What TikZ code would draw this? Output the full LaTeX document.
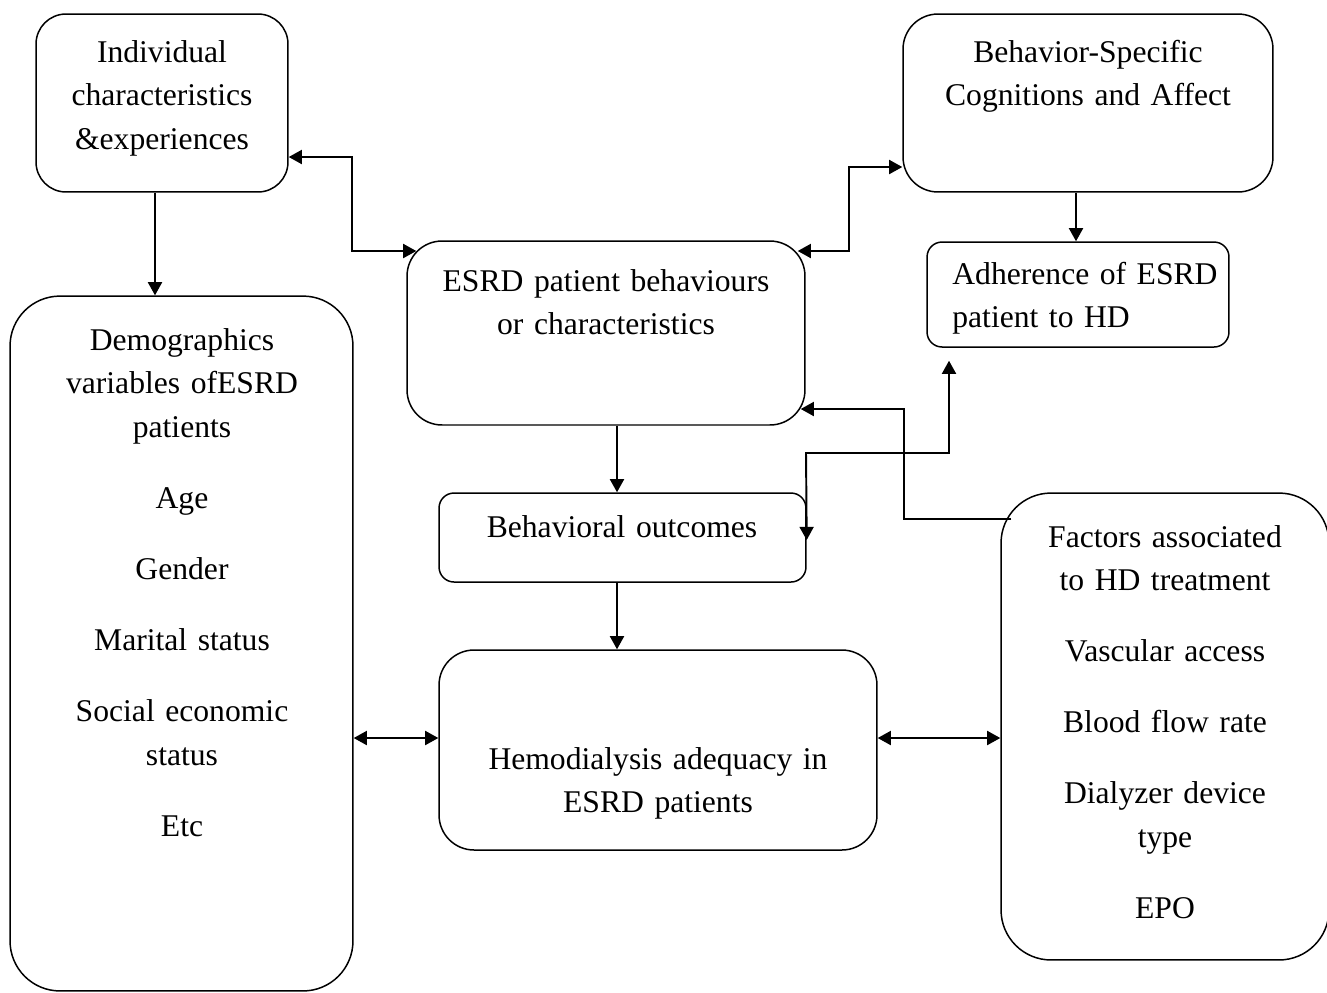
\documentclass[tikz,border=0pt]{standalone}
\usepackage{fontspec}
\setmainfont[WordSpace=0.85]{Liberation Serif}
\usetikzlibrary{arrows.meta,calc}
\tikzset{
  box/.style={draw, line width=0.85pt, inner sep=0pt, rounded corners=#1},
  box/.default=0.7cm,
  txt/.style={font=\fontsize{18}{25}\selectfont, align=center, inner sep=0pt, anchor=base, text width=7.5cm},
  conn/.style={line width=1.1pt, -{Triangle[length=7.5pt,width=8pt]}},
  dconn/.style={line width=1.1pt, {Triangle[length=7.5pt,width=8pt]}-{Triangle[length=7.5pt,width=8pt]}}
}
\begin{document}
\begin{tikzpicture}[x=0.02cm,y=-0.02cm]
\useasboundingbox (0,0) rectangle (1327,992);
% boxes
\node[box=0.6cm, minimum width=5.04cm, minimum height=3.56cm] (ind) at (162,103) {};
\node[box=0.7cm, minimum width=7.4cm, minimum height=3.56cm] (bsc) at (1088,103) {};
\node[box=0.7cm, minimum width=7.96cm, minimum height=3.68cm] (esrd) at (606,333) {};
\node[box=0.3cm, minimum width=6.04cm, minimum height=2.1cm] (adh) at (1078,294.5) {};
\node[box=1.0cm, minimum width=6.86cm, minimum height=13.9cm] (dem) at (181.5,643.5) {};
\node[box=0.3cm, minimum width=7.34cm, minimum height=1.78cm] (bo) at (622.5,537.5) {};
\node[box=0.7cm, minimum width=8.76cm, minimum height=4.0cm] (hd) at (658,750) {};
\node[box=1.0cm, minimum width=6.56cm, minimum height=9.34cm] (fac) at (1165,726.5) {};
% texts
\node[txt] (tind) at (162,62) {Individual\\characteristics\\\&experiences};
\node[txt] (tbsc) at (1088,62) {Behavior-Specific\\Cognitions and Affect};
\node[txt] (tesrd) at (606,291) {ESRD patient behaviours\\or characteristics};
\node[txt, anchor=base west, align=left] (tadh) at (952,284) {Adherence of ESRD\\patient to HD};
\node[txt] (tdem) at (182,350) {Demographics\\variables ofESRD\\patients\\[15.4pt]Age\\[15.4pt]Gender\\[15.4pt]Marital status\\[15.4pt]Social economic\\status\\[15.4pt]Etc};
\node[txt] (tbo) at (622,537) {Behavioral outcomes};
\node[txt] (thd) at (658,769) {Hemodialysis adequacy in\\ESRD patients};
\node[txt] (tfac) at (1165,547) {Factors associated\\to HD treatment\\[15.4pt]Vascular access\\[15.4pt]Blood flow rate\\[15.4pt]Dialyzer device\\type\\[15.4pt]EPO};
% connectors
\draw[dconn] (ind.east |- 0,157) -- (352,157) -- (352,251) -- ([xshift=0.2cm]esrd.west |- 0,251);
\draw[conn] (ind.south -| 155,0) -- (dem.north -| 155,0);
\draw[dconn] ([xshift=-0.16cm]esrd.east |- 0,251) -- (849,251) -- (849,167) -- (bsc.west |- 0,167);
\draw[conn] (bsc.south -| 1076,0) -- (adh.north -| 1076,0);
\draw[conn] (esrd.south -| 617,0) -- (bo.north -| 617,0);
\draw[conn] (bo.south -| 617,0) -- (hd.north -| 617,0);
\draw[dconn] (dem.east |- 0,738) -- (hd.west |- 0,738);
\draw[dconn] (hd.east |- 0,738) -- (fac.west |- 0,738);
\draw[conn] ([xshift=0.22cm]fac.west |- 0,519) -- (904,519) -- (904,409) -- ([xshift=-0.1cm]esrd.east |- 0,409);
\draw[dconn] (bo.east |- 0,540) -- (806,453) -- (949,453) -- ([yshift=-0.26cm]adh.south -| 949,0);
\end{tikzpicture}
\end{document}
